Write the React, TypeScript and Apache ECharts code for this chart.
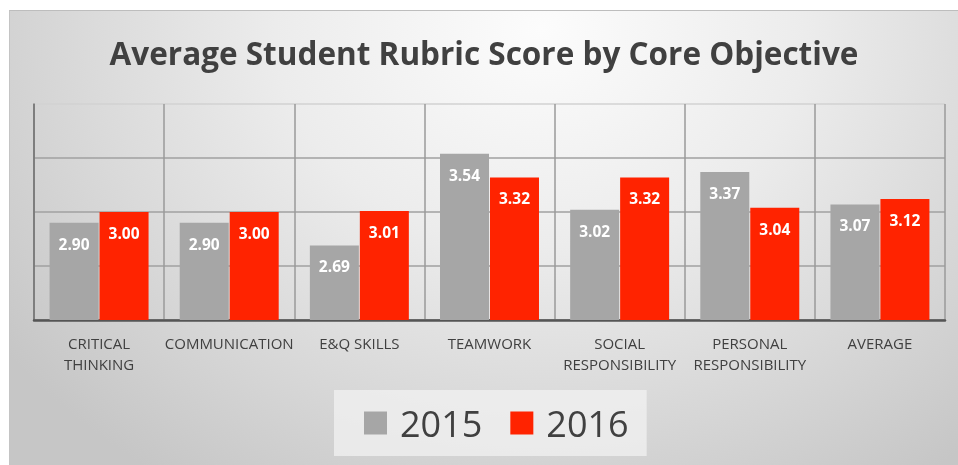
import React, { useEffect, useRef } from "react";
import * as echarts from "echarts";

const categories = [
  "CRITICAL\nTHINKING",
  "COMMUNICATION",
  "E&Q SKILLS",
  "TEAMWORK",
  "SOCIAL\nRESPONSIBILITY",
  "PERSONAL\nRESPONSIBILITY",
  "AVERAGE",
];
const values2015 = [2.9, 2.9, 2.69, 3.54, 3.02, 3.37, 3.07];
const values2016 = [3.0, 3.0, 3.01, 3.32, 3.32, 3.04, 3.12];
const seriesNames = ["2015", "2016"];
const titleText = "Average Student Rubric Score by Core Objective";

const FONT = "'Open Sans', 'Noto Sans', sans-serif";

export default function App() {
  const ref = useRef<HTMLDivElement>(null);
  useEffect(() => {
    if (!ref.current) return;
    const chart = echarts.init(ref.current, null, { renderer: "svg" });
    const label = {
      show: true,
      position: "insideTop" as const,
      distance: 13,
      color: "#ffffff",
      fontFamily: FONT,
      fontWeight: "bold" as const,
      fontSize: 15.5,
      formatter: (p: any) => Number(p.value).toFixed(2),
    };
    chart.setOption({
      animation: false,
      title: {
        text: titleText,
        left: "center",
        top: 20,
        textStyle: {
          fontFamily: FONT,
          fontWeight: "bold",
          fontSize: 31.5,
          color: "#404040",
        },
      },
      legend: {
        data: seriesNames,
        left: 324,
        top: 379,
        backgroundColor: "rgba(242,242,242,0.75)",
        padding: [13, 18, 13, 30],
        itemWidth: 23,
        itemHeight: 23,
        itemGap: 28,
        icon: "rect",
        textStyle: {
          fontFamily: FONT,
          fontSize: 36,
          lineHeight: 40,
          color: "#404040",
          padding: [0, 0, 0, 8],
        },
      },
      grid: { left: 24, top: 93, right: 13, bottom: 145, containLabel: false },
      xAxis: {
        type: "category",
        data: categories,
        axisLine: { show: true, lineStyle: { color: "#555555", width: 2.5 } },
        axisTick: { show: false },
        splitLine: {
          show: true,
          interval: 0,
          lineStyle: { color: "#9a9a9a", width: 1.5 },
        },
        axisLabel: {
          interval: 0,
          margin: 12,
          fontFamily: FONT,
          fontSize: 15,
          lineHeight: 21,
          color: "#404040",
        },
      },
      yAxis: {
        type: "value",
        min: 2,
        max: 4,
        interval: 0.5,
        axisLabel: { show: false },
        axisTick: { show: false },
        axisLine: { show: true, lineStyle: { color: "#707070", width: 1.5 } },
        splitLine: {
          show: true,
          lineStyle: {
            color: ["#8a8a8a", "#a0a0a0", "#a0a0a0", "#a0a0a0", "#d2d2d2"],
            width: 1.5,
          },
        },
      },
      series: [
        {
          name: seriesNames[0],
          type: "bar",
          data: values2015,
          barWidth: 49,
          barGap: "2%",
          itemStyle: { color: "#a6a6a6" },
          label,
        },
        {
          name: seriesNames[1],
          type: "bar",
          data: values2016,
          barWidth: 49,
          barGap: "2%",
          itemStyle: { color: "#ff2300" },
          label,
        },
      ],
    });
    return () => chart.dispose();
  }, []);
  return (
    <div
      style={{
        position: "fixed",
        left: 9,
        top: 10,
        width: 949,
        height: 455,
        borderTop: "1px solid #bdbdbd",
        borderLeft: "1px solid #c4c4c4",
        boxSizing: "border-box",
        background:
          "radial-gradient(ellipse 70% 120% at 56% 4%, #fcfcfc 0%, #ececec 40%, #d6d6d6 75%, #c6c6c6 100%)",
      }}
    >
      <div ref={ref} style={{ width: 948, height: 454 }} />
    </div>
  );
}
